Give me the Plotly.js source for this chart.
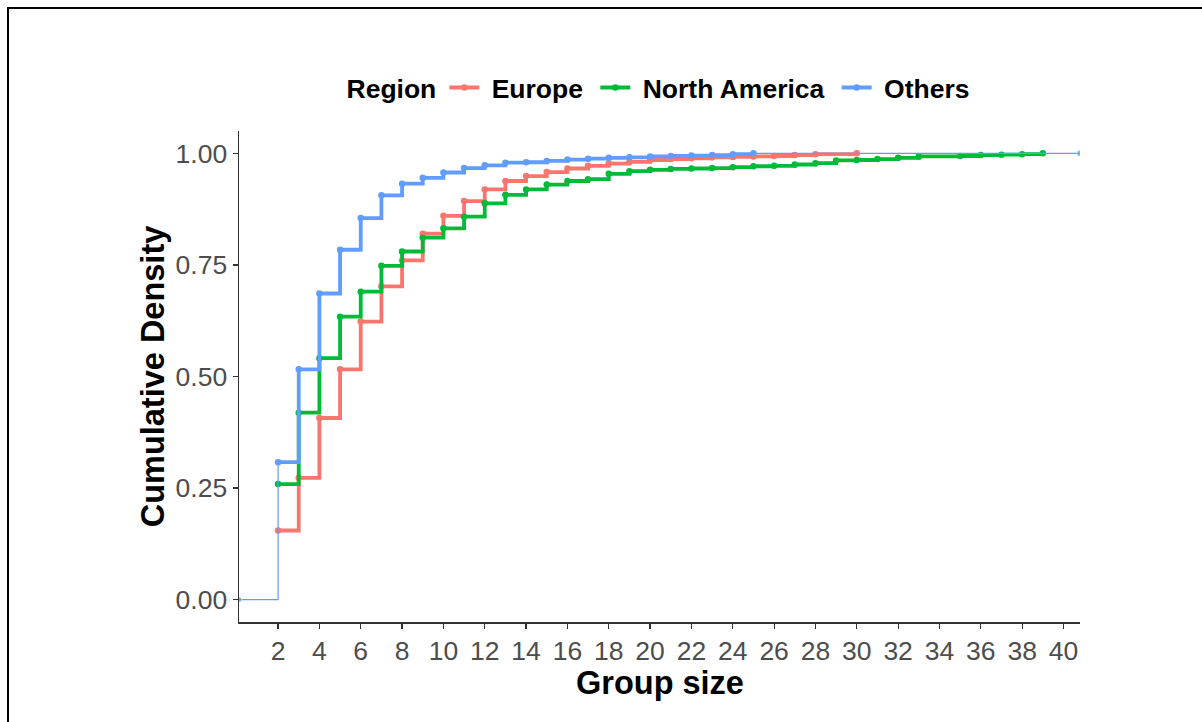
<!DOCTYPE html>
<html>
<head>
<meta charset="utf-8">
<script src="https://cdn.plot.ly/plotly-3.0.1.min.js"></script>
<style>
html,body{margin:0;padding:0;background:#fff;}
#chart{width:1202px;height:722px;}
#frame{position:absolute;left:7px;top:7px;right:0;bottom:0;border-top:2px solid #000;border-left:2px solid #000;pointer-events:none;}
</style>
</head>
<body>
<div id="chart"></div>
<div id="frame"></div>
<script>
// Group sizes (x) and cumulative density (y) per region
const regions = ["Europe", "North America", "Others"];
const colors = ["#F8766D", "#00BA38", "#619CFF"];

const europeX = [2,3,4,5,6,7,8,9,10,11,12,13,14,15,16,17,18,19,20,21,22,23,24,25,26,27,28,30];
const europeY = [0.155,0.273,0.407,0.516,0.623,0.702,0.760,0.820,0.860,0.893,0.919,0.938,0.949,0.958,0.966,0.972,0.977,0.981,0.985,0.987,0.989,0.991,0.992,0.993,0.994,0.996,0.998,1.000];

const naX = [2,3,4,5,6,7,8,9,10,11,12,13,14,15,16,17,18,19,20,21,22,23,24,25,26,27,28,29,30,31,32,33,35,36,37,38,39];
const naY = [0.259,0.419,0.541,0.634,0.690,0.748,0.780,0.811,0.832,0.858,0.888,0.907,0.919,0.930,0.938,0.942,0.954,0.960,0.963,0.965,0.966,0.967,0.969,0.971,0.972,0.975,0.978,0.984,0.985,0.987,0.990,0.993,0.994,0.996,0.997,0.998,1.000];

const othersX = [2,3,4,5,6,7,8,9,10,11,12,13,14,15,16,17,18,19,20,21,22,23,24,25];
const othersY = [0.308,0.516,0.686,0.784,0.855,0.906,0.932,0.945,0.957,0.967,0.973,0.979,0.980,0.983,0.986,0.988,0.990,0.991,0.993,0.994,0.995,0.996,0.998,1.000];

const xTicks = [2,4,6,8,10,12,14,16,18,20,22,24,26,28,30,32,34,36,38,40];
const yTicks = [0, 0.25, 0.5, 0.75, 1];

const xRange = [0.11, 40.8];
const seriesX = [europeX, naX, othersX];
const seriesY = [europeY, naY, othersY];

const traces = [];
for (let i = 0; i < 3; i++) {
  const label = '\u00A0' + regions[i] + (i < 2 ? '\u00A0' : '');
  traces.push({
    x: seriesX[i], y: seriesY[i], name: label,
    mode: 'lines+markers', line: {shape: 'hv', color: colors[i], width: 3.8},
    marker: {size: 6.5, color: colors[i]}
  });
}
// thin padding steps (-Inf / +Inf ends of the ECDF); only the top-drawn (Others) one is visible
const oX = othersX, oY = othersY;
traces.push({
  x: [xRange[0], oX[0]], y: [0, oY[0]],
  mode: 'lines+markers', line: {shape: 'hv', color: colors[2], width: 1.2},
  marker: {size: [6, 0], color: colors[2]},
  showlegend: false, hoverinfo: 'skip'
});
traces.push({
  x: [oX[oX.length-1], xRange[1]], y: [1, 1],
  mode: 'lines+markers', line: {shape: 'hv', color: colors[2], width: 1.2},
  marker: {size: [0, 7], color: colors[2]},
  showlegend: false, hoverinfo: 'skip'
});

const tickFont = {family: 'Liberation Sans, Arial', size: 26.5, color: '#4D4D4D'};
const titleFont = {family: 'Liberation Sans, Arial', size: 32.5, color: '#000', weight: 'bold'};
const legFont = {family: 'Liberation Sans, Arial', size: 26.5, color: '#000', weight: 'bold'};

const layout = {
  width: 1202, height: 722,
  paper_bgcolor: '#fff', plot_bgcolor: '#fff',
  margin: {l: 239, r: 122, t: 131, b: 100},
  showlegend: true,
  legend: {
    orientation: 'h', x: 0.5, xanchor: 'center', y: 1.088, yanchor: 'middle',
    font: legFont,
    title: {text: 'Region', side: 'left', font: legFont},
    itemwidth: 30, traceorder: 'normal'
  },
  annotations: [{
    text: 'Group size', xref: 'paper', yref: 'paper', x: 0.5, y: -0.124,
    xanchor: 'center', yanchor: 'middle', showarrow: false, font: titleFont
  }],
  xaxis: {
    range: xRange, tickvals: xTicks, ticktext: xTicks.map(String),
    showgrid: false, zeroline: false, showline: true, linecolor: '#333', linewidth: 1.5,
    ticks: 'outside', ticklen: 5, tickcolor: '#333', tickwidth: 1.2,
    tickfont: tickFont
  },
  yaxis: {
    range: [-0.05, 1.05], tickvals: yTicks, ticktext: yTicks.map(v => v.toFixed(2)),
    showgrid: false, zeroline: false, showline: true, linecolor: '#333', linewidth: 1.5,
    ticks: 'outside', ticklen: 5, tickcolor: '#333', tickwidth: 1.2,
    tickfont: tickFont,
    title: {text: 'Cumulative Density', font: titleFont, standoff: 1}
  }
};

Plotly.newPlot('chart', traces, layout, {displayModeBar: false, staticPlot: true});
</script>
</body>
</html>
